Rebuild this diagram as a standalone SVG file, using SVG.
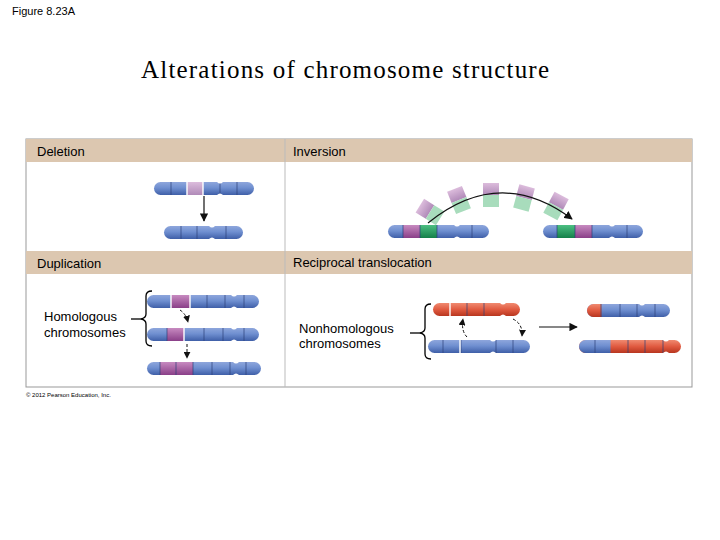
<svg xmlns="http://www.w3.org/2000/svg" width="720" height="540" viewBox="0 0 720 540">
<defs>
<linearGradient id="gb" x1="0" y1="0" x2="0" y2="1"><stop offset="0" stop-color="#8ea6dc"/><stop offset="0.45" stop-color="#6f8fd0"/><stop offset="1" stop-color="#3f5fa8"/></linearGradient>
<linearGradient id="gp" x1="0" y1="0" x2="0" y2="1"><stop offset="0" stop-color="#c78ac0"/><stop offset="1" stop-color="#8a3f88"/></linearGradient>
<linearGradient id="gl" x1="0" y1="0" x2="0" y2="1"><stop offset="0" stop-color="#dcbcdc"/><stop offset="1" stop-color="#b08ab8"/></linearGradient>
<linearGradient id="gg" x1="0" y1="0" x2="0" y2="1"><stop offset="0" stop-color="#4cbf82"/><stop offset="1" stop-color="#15804a"/></linearGradient>
<linearGradient id="gr" x1="0" y1="0" x2="0" y2="1"><stop offset="0" stop-color="#f08a70"/><stop offset="0.5" stop-color="#e05a40"/><stop offset="1" stop-color="#b8361f"/></linearGradient>
<marker id="ah" viewBox="0 0 10 10" refX="9" refY="5" markerWidth="7" markerHeight="7" orient="auto"><path d="M0,0 L10,5 L0,10 z" fill="#111"/></marker>
<g id="frag"><rect x="-8" y="-12" width="16" height="12" fill="url(#gl)"/><rect x="-8" y="0" width="16" height="12" fill="#a8dcbc"/></g>
</defs>
<style>
.t{font-family:"Liberation Sans",Arial,sans-serif;fill:#000}
.h{font-size:13px}
.sep{stroke:#2b3f7a;stroke-width:0.7;fill:none}
.w{stroke:#fff;stroke-width:1.4}
.n{fill:#fff}
.c{stroke:#111;stroke-width:1.2;fill:none}
.d{stroke:#111;stroke-width:1;fill:none;stroke-dasharray:3 2}
</style>
<text class="t" x="12" y="15" font-size="11">Figure 8.23A</text>
<text x="345" y="78" text-anchor="middle" font-family="'Liberation Serif','Times New Roman',serif" font-size="25" textLength="408" lengthAdjust="spacing">Alterations of chromosome structure</text>

<g id="panel">
<rect x="26" y="139" width="666" height="248" fill="#fff" stroke="#999" stroke-width="1"/>
<rect x="26" y="139" width="666" height="23" fill="#dcc7b0"/>
<rect x="26" y="251" width="666" height="23" fill="#dcc7b0"/>
<line x1="285" y1="139" x2="285" y2="387" stroke="#bbb"/>
<text class="t h" x="37" y="156">Deletion</text>
<text class="t h" x="293" y="156">Inversion</text>
<text class="t h" x="37" y="268">Duplication</text>
<text class="t h" x="293" y="267">Reciprocal translocation</text>
</g>

<g id="deletion">
<rect x="154" y="182" width="100" height="13" rx="6.5" fill="url(#gb)"/>
<rect x="187" y="182" width="16" height="13" fill="url(#gl)"/>
<path class="sep" d="M171,182v13M220,182v13M237,182v13"/>
<path class="w" d="M187,182v13M203,182v13"/>
<path class="n" d="M217,182 q3,3 6,0z M217,195 q3,-3 6,0z"/>
<rect x="164" y="226" width="79" height="13" rx="6.5" fill="url(#gb)"/>
<path class="sep" d="M181,226v13M197,226v13M226,226v13"/>
<path class="n" d="M209,226 q3,3 6,0z M209,239 q3,-3 6,0z"/>
<line class="c" x1="204" y1="196" x2="204" y2="221" marker-end="url(#ah)"/>
</g>

<g id="inversion">
<use href="#frag" transform="translate(430,212) rotate(-58)"/>
<use href="#frag" transform="translate(459,200) rotate(-22)"/>
<use href="#frag" transform="translate(491,195)"/>
<use href="#frag" transform="translate(524,198) rotate(15)"/>
<use href="#frag" transform="translate(556,206) rotate(28)"/>
<rect x="388" y="225" width="101" height="13" rx="6.5" fill="url(#gb)"/>
<rect x="403" y="225" width="17" height="13" fill="url(#gp)"/>
<rect x="420" y="225" width="17" height="13" fill="url(#gg)"/>
<path class="sep" d="M403,225v13M420,225v13M437,225v13M472,225v13"/>
<path class="n" d="M454,225 q3,3 6,0z M454,238 q3,-3 6,0z"/>
<rect x="543" y="225" width="100" height="13" rx="6.5" fill="url(#gb)"/>
<rect x="557" y="225" width="18" height="13" fill="url(#gg)"/>
<rect x="575" y="225" width="17" height="13" fill="url(#gp)"/>
<path class="sep" d="M557,225v13M575,225v13M592,225v13M627,225v13"/>
<path class="n" d="M609,225 q3,3 6,0z M609,238 q3,-3 6,0z"/>
<path class="c" d="M428,223 Q500,165 572,219" marker-end="url(#ah)"/>
</g>

<g id="duplication">
<rect x="147" y="295" width="112" height="13" rx="6.5" fill="url(#gb)"/>
<rect x="171" y="295" width="19" height="13" fill="url(#gp)"/>
<path class="w" d="M171,295v13M190,295v13"/>
<path class="sep" d="M207,295v13M225,295v13M244,295v13"/>
<path class="n" d="M231,295 q3,3 6,0z M231,308 q3,-3 6,0z"/>
<rect x="147" y="328" width="112" height="13" rx="6.5" fill="url(#gb)"/>
<rect x="167" y="328" width="17" height="13" fill="url(#gp)"/>
<path class="w" d="M184,328v13"/>
<path class="sep" d="M167,328v13M204,328v13M223,328v13M244,328v13"/>
<path class="n" d="M231,328 q3,3 6,0z M231,341 q3,-3 6,0z"/>
<rect x="147" y="362" width="114" height="13" rx="6.5" fill="url(#gb)"/>
<rect x="160" y="362" width="33" height="13" fill="url(#gp)"/>
<path class="sep" d="M160,362v13M176,362v13M193,362v13M212,362v13M230,362v13M246,362v13"/>
<path class="n" d="M233,362 q3,3 6,0z M233,375 q3,-3 6,0z"/>
<path class="d" d="M180,310 q6,4 8,12" marker-end="url(#ah)"/>
<line class="d" x1="187" y1="344" x2="187" y2="358" marker-end="url(#ah)"/>
<path d="M152,291 q-6,0 -6,5 v18 q0,4 -5,5 q5,1 5,5 v17 q0,5 6,5" fill="none" stroke="#000" stroke-width="1.3"/>
<line x1="131" y1="319" x2="141" y2="319" stroke="#000" stroke-width="1.3"/>
<text class="t h" x="44" y="321">Homologous</text>
<text class="t h" x="44" y="337">chromosomes</text>
</g>

<g id="translocation">
<rect x="433" y="303" width="87" height="13" rx="6.5" fill="url(#gr)"/>
<path class="w" d="M450,303v13"/>
<path class="sep" d="M467,303v13M484,303v13" stroke="#8a2a18"/>
<path class="n" d="M500,303 q3,3 6,0z M500,316 q3,-3 6,0z"/>
<rect x="428" y="340" width="102" height="13" rx="6.5" fill="url(#gb)"/>
<path class="sep" d="M443,340v13M461,340v13M496,340v13M513,340v13"/>
<path class="w" d="M460,340v13"/>
<path class="n" d="M490,340 q3,3 6,0z M490,353 q3,-3 6,0z"/>
<path class="d" d="M467,337 q-6,-6 -4,-18" marker-end="url(#ah)"/>
<path class="d" d="M513,319 q10,5 9,17" marker-end="url(#ah)"/>
<line class="c" x1="539" y1="327" x2="577" y2="327" marker-end="url(#ah)"/>
<rect x="587" y="304" width="83" height="13" rx="6.5" fill="url(#gb)"/>
<path d="M593.5,304 h8 v13 h-8 a6.5,6.5 0 0 1 0,-13z" fill="url(#gr)"/>
<path class="sep" d="M601,304v13M620,304v13M637,304v13M655,304v13"/>
<path class="n" d="M639,304 q3,3 6,0z M639,317 q3,-3 6,0z"/>
<rect x="579" y="340" width="102" height="13" rx="6.5" fill="url(#gr)"/>
<path d="M585.5,340 h25 v13 h-25 a6.5,6.5 0 0 1 0,-13z" fill="url(#gb)"/>
<path class="sep" d="M595,340v13M628,340v13M645,340v13M663,340v13"/>
<path class="n" d="M663,340 q3,3 6,0z M663,353 q3,-3 6,0z"/>
<path d="M431,304 q-6,0 -6,5 v19 q0,4 -5,5 q5,1 5,5 v16 q0,5 6,5" fill="none" stroke="#000" stroke-width="1.3"/>
<line x1="410" y1="333" x2="420" y2="333" stroke="#000" stroke-width="1.3"/>
<text class="t h" x="299" y="333">Nonhomologous</text>
<text class="t h" x="299" y="348">chromosomes</text>
</g>
<text class="t" x="26" y="397" font-size="6" fill="#444">© 2012 Pearson Education, Inc.</text>
</svg>
